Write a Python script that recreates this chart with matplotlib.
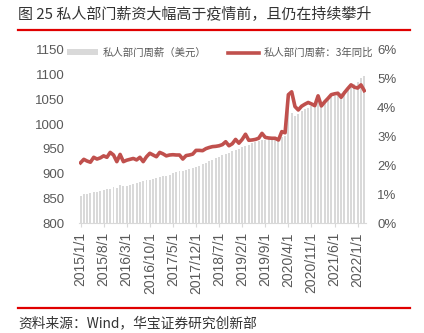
import numpy as np
import matplotlib
matplotlib.use("Agg")
import matplotlib.pyplot as plt
from matplotlib.patches import Patch
from matplotlib.lines import Line2D

plt.rcParams['font.family'] = ['Liberation Sans', 'Noto Sans CJK SC', 'DejaVu Sans']
CJK = ['Noto Sans CJK SC', 'DejaVu Sans']

# monthly, 2015/1 .. 2022/3
months = [f"{2015 + i // 12}/{i % 12 + 1}/1" for i in range(87)]

weekly_pay = [
    855, 858, 859, 860, 862, 863, 864, 866, 868, 869, 872, 871,
    878, 874, 876, 878, 880, 882, 883, 885, 887, 887, 890, 891,
    893, 895, 896, 898, 901, 903, 905, 906, 908, 909, 911, 913,
    916, 919, 922, 925, 928, 931, 934, 937, 940, 942, 945, 947,
    950, 953, 956, 958, 961, 963, 965, 967, 968, 969, 970, 971,
    974, 975, 977, 1033, 1022, 1016, 1020, 1026, 1030, 1033, 1036, 1039,
    1046, 1044, 1049, 1051, 1054, 1056, 1059, 1063, 1067, 1072, 1078, 1081,
    1086, 1094, 1098,
]

yoy_3y = [
    2.09, 2.21, 2.15, 2.11, 2.28, 2.22, 2.26, 2.33, 2.28, 2.45, 2.36, 2.13,
    2.38, 2.13, 2.18, 2.21, 2.24, 2.19, 2.28, 2.13, 2.30, 2.42, 2.36, 2.30,
    2.45, 2.40, 2.33, 2.36, 2.37, 2.36, 2.36, 2.22, 2.34, 2.36, 2.39, 2.52,
    2.52, 2.51, 2.58, 2.62, 2.65, 2.66, 2.68, 2.72, 2.82, 2.68, 2.75, 2.90,
    2.77, 2.90, 3.08, 2.87, 2.88, 2.90, 2.94, 3.11, 2.97, 2.95, 2.94, 2.94,
    2.88, 3.17, 3.13, 4.45, 4.55, 4.04, 3.92, 4.05, 4.12, 4.18, 4.13, 4.07,
    4.41, 4.06, 4.20, 4.32, 4.45, 4.48, 4.50, 4.36, 4.52, 4.66, 4.79, 4.71,
    4.68, 4.79, 4.59,
]

left_ticks = [800, 850, 900, 950, 1000, 1050, 1100, 1150]
right_ticks = [0, 1, 2, 3, 4, 5, 6]

BAR = "#d9d9d9"
RED = "#c0504d"
TXT = "#595959"

fig = plt.figure(figsize=(4.24, 3.33), dpi=100)
ax = fig.add_axes([0.186, 0.330, 0.677, 0.520])
x = np.arange(len(months))
ax.bar(x, weekly_pay, width=0.6, color=BAR, zorder=1)
ax.set_ylim(800, 1150)
ax.set_xlim(-0.5, len(months) - 0.5)
ax.set_yticks(left_ticks)
ax.set_xticks(x[::7])
ax.set_xticklabels(months[::7], rotation=90)
ax.tick_params(axis='y', length=0, pad=10, labelsize=9.5, labelcolor=TXT)
ax.tick_params(axis='x', length=3, width=0.8, color=BAR, pad=3.5,
               labelsize=10, labelcolor=TXT)
for s in ["top", "left", "right"]:
    ax.spines[s].set_visible(False)
ax.spines["bottom"].set_color(BAR)
ax.spines["bottom"].set_linewidth(0.8)

ax2 = ax.twinx()
ax2.plot(x, yoy_3y, color=RED, lw=2.6, zorder=3)
ax2.set_ylim(0, 6)
ax2.set_yticks(right_ticks)
ax2.set_yticklabels([f"{t}%" for t in right_ticks])
ax2.tick_params(axis='y', length=0, pad=8, labelsize=9.5, labelcolor=TXT)
for s in ["top", "left", "right", "bottom"]:
    ax2.spines[s].set_visible(False)

handles = [Patch(facecolor=BAR, edgecolor="none"), Line2D([], [], color=RED, lw=2.6)]
leg = fig.legend(handles, ["私人部门周薪（美元）", "私人部门周薪：3年同比"],
                 loc="center left", bbox_to_anchor=(0.146, 0.841), ncol=2,
                 frameon=False, borderpad=0, handlelength=3.0, handleheight=0.5,
                 handletextpad=0.4, columnspacing=2.1,
                 prop={'family': CJK, 'size': 7.5})
for t in leg.get_texts():
    t.set_color(TXT)

fig.text(0.043, 0.955, "图 25 私人部门薪资大幅高于疫情前，且仍在持续攀升",
         family=CJK, fontsize=10.8, va="center", ha="left", color="#333333")
fig.add_artist(Line2D([0.043, 0.967], [0.910, 0.910], color="#e00000", lw=1.6))
fig.add_artist(Line2D([0.043, 0.967], [0.075, 0.075], color="#e00000", lw=1.6))
fig.text(0.043, 0.030, "资料来源：Wind，华宝证券研究创新部",
         family=CJK, fontsize=9.9, va="center", ha="left", color="#333333")

fig.savefig("out.png", dpi=100)
